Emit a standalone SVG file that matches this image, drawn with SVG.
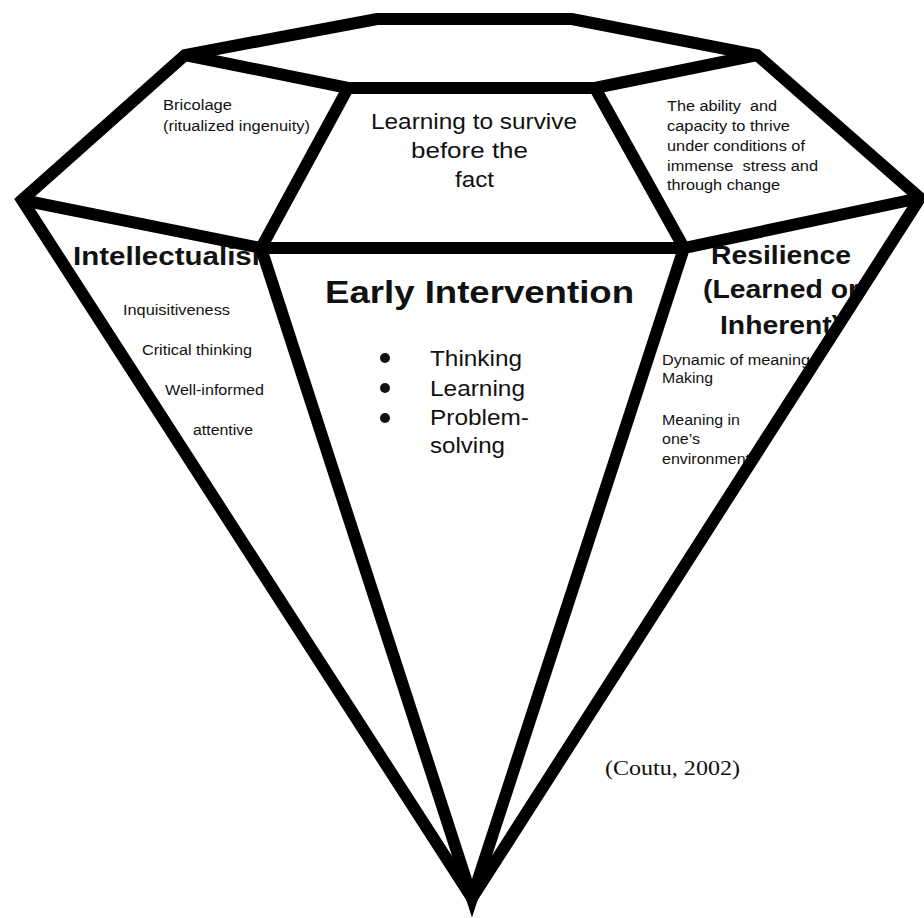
<svg xmlns="http://www.w3.org/2000/svg" width="924" height="918" viewBox="0 0 924 918">
<style>
.t{font-family:"Liberation Sans",Arial,sans-serif;fill:#111;white-space:pre}
.s{font-size:14px}
.m{font-size:22px}
.b{font-weight:bold}
.h{font-size:26px}
.serif{font-family:"Liberation Serif","Times New Roman",serif;font-size:21px;fill:#111}
.edge{fill:none;stroke:#000;stroke-width:12;stroke-linejoin:miter;stroke-miterlimit:10}
</style>
<defs>
<clipPath id="clipIntel"><rect x="0" y="200" width="258" height="100"/></clipPath>
</defs>
<rect width="924" height="918" fill="#fff"/>

<g id="crown-left">
<text class="t s" x="163" y="110" textLength="69" lengthAdjust="spacingAndGlyphs">Bricolage</text>
<text class="t s" x="163" y="131" textLength="147" lengthAdjust="spacingAndGlyphs">(ritualized ingenuity)</text>
</g>

<g id="table">
<text class="t m" x="371" y="129" textLength="206" lengthAdjust="spacingAndGlyphs">Learning to survive</text>
<text class="t m" x="411" y="158" textLength="117" lengthAdjust="spacingAndGlyphs">before the</text>
<text class="t m" x="455" y="187" textLength="39" lengthAdjust="spacingAndGlyphs">fact</text>
</g>

<g id="crown-right">
<text class="t s" x="667" y="111" textLength="110" lengthAdjust="spacingAndGlyphs">The ability  and</text>
<text class="t s" x="667" y="131" textLength="123" lengthAdjust="spacingAndGlyphs">capacity to thrive</text>
<text class="t s" x="667" y="151" textLength="138" lengthAdjust="spacingAndGlyphs">under conditions of</text>
<text class="t s" x="667" y="171" textLength="151" lengthAdjust="spacingAndGlyphs">immense  stress and</text>
<text class="t s" x="667" y="190" textLength="113" lengthAdjust="spacingAndGlyphs">through change</text>
</g>

<g id="intellectualism">
<text class="t h b" x="73" y="265" textLength="205" lengthAdjust="spacingAndGlyphs" clip-path="url(#clipIntel)">Intellectualism</text>
<text class="t s" x="123" y="315" textLength="107" lengthAdjust="spacingAndGlyphs">Inquisitiveness</text>
<text class="t s" x="142" y="355" textLength="110" lengthAdjust="spacingAndGlyphs">Critical thinking</text>
<text class="t s" x="165" y="395" textLength="99" lengthAdjust="spacingAndGlyphs">Well-informed</text>
<text class="t s" x="193" y="435" textLength="60" lengthAdjust="spacingAndGlyphs">attentive</text>
</g>

<g id="early-intervention">
<text class="t b" style="font-size:32px" x="325" y="303" textLength="309" lengthAdjust="spacingAndGlyphs">Early Intervention</text>
<circle cx="385" cy="358" r="5" fill="#111"/>
<circle cx="385" cy="388" r="5" fill="#111"/>
<circle cx="385" cy="418" r="5" fill="#111"/>
<text class="t m" x="430" y="366" textLength="92" lengthAdjust="spacingAndGlyphs">Thinking</text>
<text class="t m" x="430" y="396" textLength="95" lengthAdjust="spacingAndGlyphs">Learning</text>
<text class="t m" x="430" y="425" textLength="99" lengthAdjust="spacingAndGlyphs">Problem-</text>
<text class="t m" x="430" y="453" textLength="75" lengthAdjust="spacingAndGlyphs">solving</text>
</g>

<g id="resilience">
<text class="t h b" x="711" y="264" textLength="140" lengthAdjust="spacingAndGlyphs">Resilience</text>
<text class="t h b" x="703" y="298" textLength="156" lengthAdjust="spacingAndGlyphs">(Learned or</text>
<text class="t h b" x="720" y="334" textLength="121" lengthAdjust="spacingAndGlyphs">Inherent)</text>
<text class="t s" x="662" y="365" textLength="148" lengthAdjust="spacingAndGlyphs">Dynamic of meaning</text>
<text class="t s" x="662" y="383" textLength="51" lengthAdjust="spacingAndGlyphs">Making</text>
<text class="t s" x="662" y="425" textLength="78" lengthAdjust="spacingAndGlyphs">Meaning in</text>
<text class="t s" x="662" y="444" textLength="38" lengthAdjust="spacingAndGlyphs">one’s</text>
<text class="t s" x="662" y="464" textLength="88" lengthAdjust="spacingAndGlyphs">environment</text>
</g>

<g id="citation">
<text class="serif" x="605" y="775" textLength="135" lengthAdjust="spacingAndGlyphs">(Coutu, 2002)</text>
</g>

<g id="connectors">
<path class="edge" d="M22,200 L185,55 L377,19 L572,19 L757,55 L920,198 L472,898 Z"/>
<path class="edge" d="M185,55 L348,88 L595,88 L757,55"/>
<path class="edge" d="M348,88 L261,248"/>
<path class="edge" d="M595,88 L684,248"/>
<path class="edge" d="M22,200 L261,248 L684,248 L920,198"/>
<path class="edge" d="M261,248 L472,898 L684,248"/>
</g>
</svg>
